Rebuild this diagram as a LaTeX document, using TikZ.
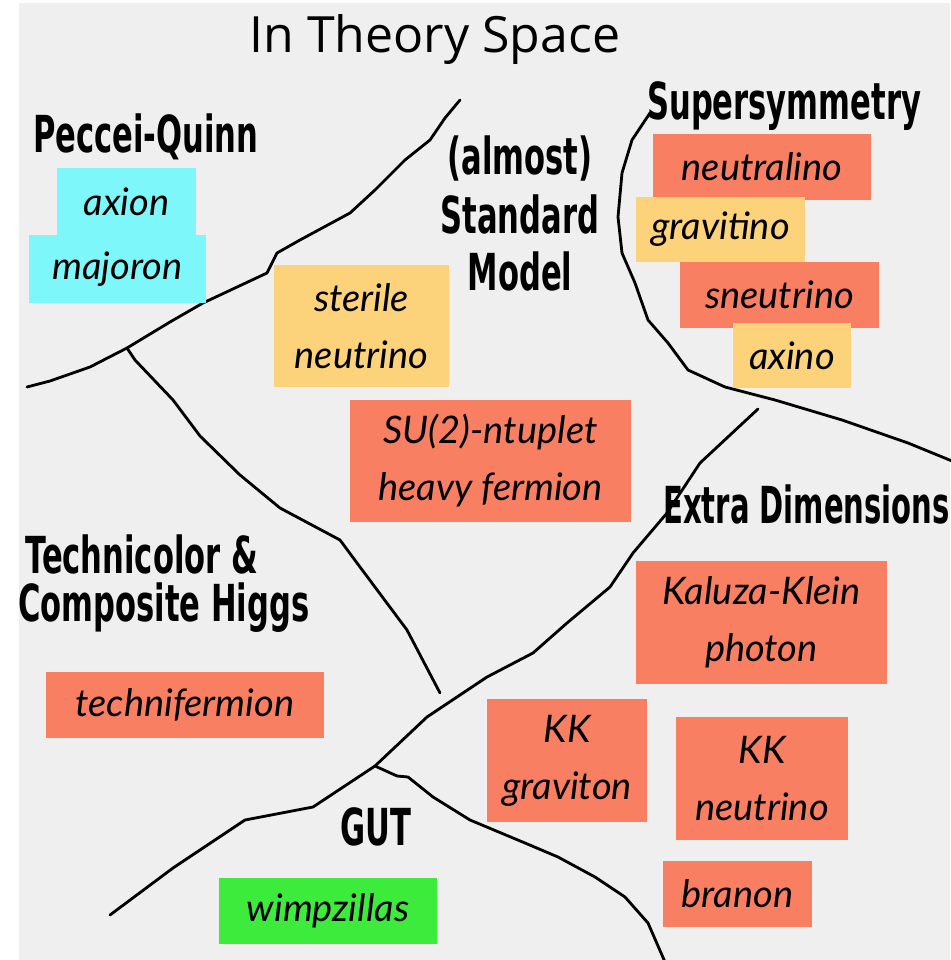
\documentclass[tikz,border=0pt]{standalone}
\usepackage{fontspec}
\newfontfamily\hfont{DejaVu Sans}[FakeStretch=0.6]
\newfontfamily\hfontn{DejaVu Sans}[FakeStretch=0.57]
\newfontfamily\handfont{Lato}
\newfontfamily\titlefont{Open Sans}
\definecolor{paper}{HTML}{EFEFEF}
\definecolor{cyanbox}{HTML}{7EF7FA}
\definecolor{yellowbox}{HTML}{FCD27B}
\definecolor{salmonbox}{HTML}{F97F63}
\definecolor{greenbox}{HTML}{3DEB3D}
\tikzset{
  pbox/.style={rectangle, inner sep=0pt, align=center, text=black,
    font=\handfont\itshape\fontsize{38}{57}\selectfont},
  header/.style={inner sep=0pt, anchor=base west, text=black,
    font=\hfont\bfseries\fontsize{51}{57}\selectfont},
  border/.style={line width=2.8pt, black, line join=round, line cap=round}
}
\begin{document}
\begin{tikzpicture}[x=1pt,y=-1pt]
\useasboundingbox (0,0) rectangle (950,960);
\fill[white] (0,0) rectangle (950,960);
\fill[paper] (19,3) rectangle (950,960);

% title
\node[inner sep=0pt, anchor=base, font=\titlefont\fontsize{50}{56}\selectfont] (title) at (435,53) {In Theory Space};

% boundary lines
\draw[border] (27,387) -- (50,381) -- (90,367) -- (127,348) -- (170,322) -- (203,303) -- (267,273) -- (277,253) -- (300,240) -- (350,213) -- (375,190) -- (405,160) -- (430,140) -- (445,118) -- (460,100);
\draw[border] (127,348) -- (135,360) -- (173,400) -- (200,436) -- (240,475) -- (280,508) -- (340,540) -- (360,567) -- (407,630) -- (440,693);
\draw[border] (110,915) -- (173,868) -- (245,820) -- (313,807) -- (375,766) -- (427,717) -- (487,677) -- (533,653) -- (567,623) -- (610,587) -- (633,553) -- (667,513) -- (700,463) -- (758,409);
\draw[border] (375,766) -- (397,776) -- (408,777) -- (433,797) -- (470,820) -- (525,843) -- (558,857) -- (595,877) -- (625,897) -- (648,923) -- (665,962);
\draw[border] (650,113) -- (632,140) -- (622,173) -- (618,217) -- (622,253) -- (635,283) -- (648,320) -- (668,343) -- (688,370) -- (725,387) -- (775,400) -- (842,420) -- (908,443) -- (952,461);

% headers
\node[header] (pq) at (33,153) {Peccei-Quinn};
\node[header, anchor=base] (sm1) at (520,175) {(almost)};
\node[header, anchor=base] (sm2) at (520,233) {Standard};
\node[header, anchor=base] (sm3) at (520,290) {Model};
\node[header] (susy) at (647,120) {Supersymmetry};
\node[header, font=\hfontn\bfseries\fontsize{51}{57}\selectfont] (ed) at (663,523) {Extra Dimensions};
\node[header] (tc1) at (25,573) {Technicolor \&};
\node[header] (tc2) at (18,621) {Composite Higgs};
\node[header] (gut) at (340,845) {GUT};

% particle boxes
\node[pbox, fill=cyanbox, minimum width=139, minimum height=67] (axion) at (126.5,201.5) {axion};
\node[pbox, fill=cyanbox, minimum width=177, minimum height=68] (majoron) at (117.5,269) {majoron};
\node[pbox, fill=yellowbox, minimum width=175, minimum height=122] (sterile) at (361.5,326) {sterile\\neutrino};
\node[pbox, fill=salmonbox, minimum width=281, minimum height=122] (su2) at (490.5,461) {SU(2)-ntuplet\\heavy fermion};
\node[pbox, fill=salmonbox, minimum width=218, minimum height=66] (neutralino) at (762,167) {neutralino};
\node[pbox, fill=yellowbox, minimum width=169, minimum height=65] (gravitino) at (720.5,229.5) {gravitino};
\node[pbox, fill=salmonbox, minimum width=199, minimum height=66] (sneutrino) at (779.5,295) {sneutrino};
\node[pbox, fill=yellowbox, minimum width=118, minimum height=65] (axino) at (792,355.5) {axino};
\node[pbox, fill=salmonbox, minimum width=251, minimum height=123] (kkphoton) at (761.5,622.5) {Kaluza-Klein\\photon};
\node[pbox, fill=salmonbox, minimum width=160, minimum height=123] (kkgraviton) at (567,760.5) {KK\\graviton};
\node[pbox, fill=salmonbox, minimum width=172, minimum height=123] (kkneutrino) at (762,778.5) {KK\\neutrino};
\node[pbox, fill=salmonbox, minimum width=149, minimum height=66] (branon) at (737.5,894) {branon};
\node[pbox, fill=salmonbox, minimum width=278, minimum height=66] (technifermion) at (185,705) {technifermion};
\node[pbox, fill=greenbox, minimum width=218, minimum height=66] (wimpzillas) at (328,911) {wimpzillas};
\end{tikzpicture}
\end{document}
